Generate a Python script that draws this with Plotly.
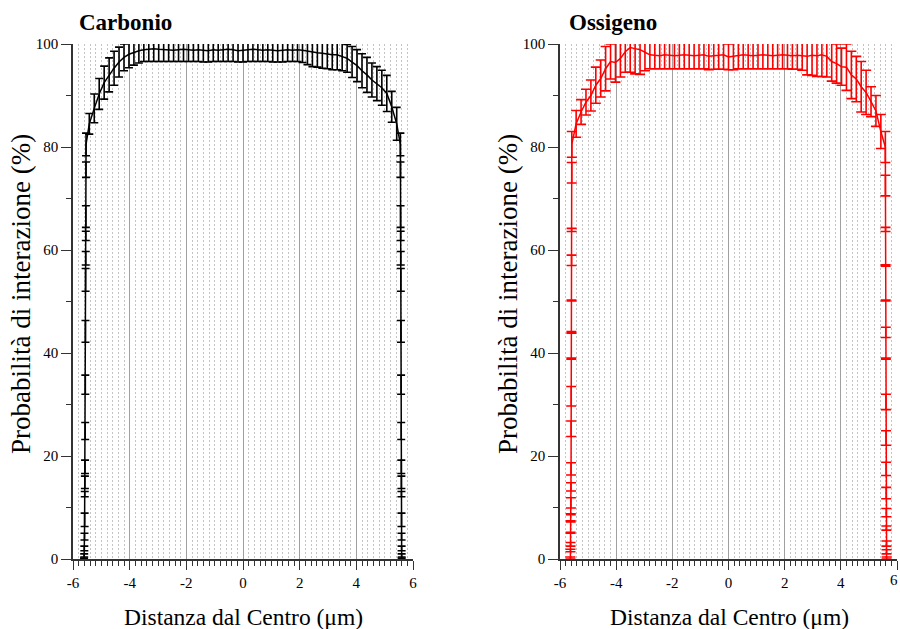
import plotly.graph_objects as go

# ---------------- data ----------------
# Carbonio: steep left wall, plateau, steep right wall
c_x_left_wall = [-5.61, -5.605, -5.60, -5.595, -5.59, -5.585, -5.58, -5.575, -5.57,
                 -5.565, -5.56, -5.555, -5.55, -5.548, -5.545, -5.542, -5.54]
c_y_left_wall = [0.1, 0.7, 2.05, 4.35, 7.6, 12.6, 14.9, 17.9, 24.85,
                 33.85, 44.2, 54.2, 58.4, 62.75, 66.5, 75.6, 80.5]
c_e_left_wall = [0.1, 0.3, 0.45, 0.65, 1.3, 0.5, 1.2, 1.3, 1.65,
                 1.85, 2.1, 2.2, 1.3, 0.9, 2.1, 1.5, 2.2]

x_grid = [-5.425, -5.25, -5.075, -4.9, -4.725, -4.55, -4.375, -4.2, -4.025, -3.85,
          -3.675, -3.5, -3.325, -3.15, -2.975, -2.8, -2.625, -2.45, -2.275, -2.1,
          -1.925, -1.75, -1.575, -1.4, -1.225, -1.05, -0.875, -0.7, -0.525, -0.35,
          -0.175, 0.0, 0.175, 0.35, 0.525, 0.7, 0.875, 1.05, 1.225, 1.4,
          1.575, 1.75, 1.925, 2.1, 2.275, 2.45, 2.625, 2.8, 2.975, 3.15,
          3.325, 3.5, 3.675, 3.85, 4.025, 4.2, 4.375, 4.55, 4.725, 4.9,
          5.075, 5.25, 5.425]

c_y_mid = [84.5, 87.5, 90.3, 92.5, 94.0, 95.3, 96.5, 97.4, 98.0, 98.4,
           98.7, 98.9, 99.0, 99.1, 99.0, 98.9, 98.9, 98.8, 98.9, 99.0,
           98.9, 98.8, 98.9, 98.8, 98.7, 98.9, 98.8, 98.9, 99.0, 98.9,
           98.7, 98.8, 98.9, 99.0, 98.9, 98.8, 98.9, 98.8, 98.7, 98.8,
           98.9, 98.8, 98.9, 98.8, 98.6, 98.4, 98.3, 98.2, 98.0, 97.9,
           97.9, 97.6, 97.2, 96.5, 95.8, 94.8, 94.0, 93.0, 92.3, 91.5,
           90.4, 87.8, 84.5]
c_e_mid = [2.0, 2.8, 3.0, 3.2, 3.3, 3.3, 2.9, 2.6, 2.6, 2.5,
           2.4, 2.3, 2.4, 2.5, 2.4, 2.3, 2.3, 2.2, 2.3, 2.4,
           2.3, 2.2, 2.3, 2.3, 2.2, 2.3, 2.2, 2.3, 2.4, 2.3,
           2.2, 2.3, 2.3, 2.4, 2.3, 2.2, 2.3, 2.3, 2.2, 2.3,
           2.3, 2.2, 2.3, 2.4, 2.6, 2.8, 2.8, 2.9, 2.8, 2.9,
           2.9, 2.8, 2.7, 3.0, 3.1, 3.3, 3.4, 3.3, 3.3, 3.4,
           3.5, 3.0, 3.2]

c_x_right_wall = [5.555, 5.558, 5.561, 5.564, 5.567, 5.57, 5.575, 5.58, 5.584,
                  5.587, 5.59, 5.592, 5.594, 5.596, 5.598, 5.599, 5.60]
c_y_right_wall = [80.5, 75.6, 66.5, 62.75, 58.4, 54.2, 44.2, 33.85, 24.85,
                  17.9, 14.9, 12.6, 7.6, 4.35, 2.05, 0.7, 0.1]
c_e_right_wall = [2.2, 1.5, 2.1, 0.9, 1.3, 2.2, 2.1, 1.85, 1.65,
                  1.3, 1.2, 0.5, 1.3, 0.65, 0.45, 0.3, 0.1]

# Ossigeno
o_x_left_wall = [-5.63, -5.627, -5.624, -5.621, -5.618, -5.615, -5.612, -5.609, -5.606,
                 -5.603, -5.6, -5.597, -5.594, -5.591, -5.588, -5.585, -5.582, -5.58]
o_y_left_wall = [0.2, 1.65, 2.85, 5.1, 7.3, 8.7, 10.9, 14.0, 17.5,
                 25.3, 31.6, 38.9, 44.0, 50.2, 58.0, 63.9, 75.0, 80.5]
o_e_left_wall = [0.2, 0.25, 0.35, 0.1, 0.1, 0.1, 1.0, 0.8, 1.2,
                 1.5, 1.9, 0.1, 0.15, 0.1, 1.0, 0.3, 2.0, 2.5]

o_y_mid = [84.5, 86.8, 88.7, 90.0, 92.0, 93.3, 95.2, 96.6, 96.4, 97.2,
           98.5, 99.3, 99.1, 98.9, 98.4, 97.9, 97.8, 97.7, 97.9, 97.8,
           97.7, 97.8, 97.9, 97.8, 97.7, 97.8, 97.9, 97.6, 97.7, 97.8,
           97.9, 97.5, 97.6, 97.8, 97.9, 97.8, 97.7, 97.8, 97.9, 97.8,
           97.7, 97.8, 97.9, 97.8, 97.7, 97.8, 97.7, 97.6, 97.8, 97.7,
           97.9, 97.6, 96.6, 96.2, 95.6, 95.5, 94.0, 93.2, 91.7, 90.6,
           88.8, 87.0, 83.0]
o_e_mid = [2.6, 2.4, 2.5, 3.0, 3.5, 3.6, 4.3, 3.4, 3.8, 3.6,
           4.0, 4.8, 4.9, 4.8, 3.6, 2.7, 2.6, 2.5, 2.7, 2.6,
           2.5, 2.6, 2.7, 2.6, 2.5, 2.6, 2.7, 2.6, 2.6, 2.7,
           2.8, 2.5, 2.6, 2.6, 2.7, 2.6, 2.5, 2.6, 2.7, 2.6,
           2.5, 2.6, 2.7, 2.6, 2.6, 2.7, 2.8, 3.6, 3.9, 4.0,
           4.2, 4.0, 3.8, 3.8, 3.6, 4.5, 4.6, 4.4, 4.9, 4.3,
           2.9, 3.0, 3.3]

o_x_right_wall = [5.585, 5.588, 5.591, 5.594, 5.597, 5.6, 5.603, 5.606, 5.609,
                  5.612, 5.615, 5.618, 5.621, 5.624, 5.627, 5.63]
o_y_right_wall = [80.0, 72.5, 64.0, 57.0, 50.2, 44.0, 38.9, 30.5, 23.5,
                  17.5, 12.8, 9.0, 6.0, 3.0, 1.4, 0.2]
o_e_right_wall = [3.0, 2.0, 0.4, 0.15, 0.1, 1.0, 0.1, 1.5, 1.4,
                  1.3, 1.1, 0.8, 0.4, 0.5, 0.4, 0.2]

x_ticks = [-6, -4, -2, 0, 2, 4, 6]
y_ticks = [0, 20, 40, 60, 80, 100]

c_x = c_x_left_wall + x_grid + c_x_right_wall
c_y = c_y_left_wall + c_y_mid + c_y_right_wall
c_e = c_e_left_wall + c_e_mid + c_e_right_wall

o_x = o_x_left_wall + x_grid + o_x_right_wall
o_y = o_y_left_wall + o_y_mid + o_y_right_wall
o_e = o_e_left_wall + o_e_mid + o_e_right_wall

# ---------------- figure ----------------
SERIF = "Liberation Serif"

fig = go.Figure()
fig.add_trace(go.Scatter(
    x=c_x, y=c_y, mode="lines", xaxis="x", yaxis="y",
    line=dict(color="black", width=1.5),
    error_y=dict(type="data", array=c_e, visible=True, color="black",
                 thickness=1.6, width=4),
    showlegend=False,
))
fig.add_trace(go.Scatter(
    x=o_x, y=o_y, mode="lines", xaxis="x2", yaxis="y2",
    line=dict(color="#ff0000", width=1.5),
    error_y=dict(type="data", array=o_e, visible=True, color="#ff0000",
                 thickness=1.6, width=5),
    showlegend=False,
))

xaxis_common = dict(
    range=[-6, 6], tickvals=x_ticks, ticktext=[str(v) for v in x_ticks],
    ticks="outside", ticklen=9, tickwidth=1.2, tickcolor="#333",
    showline=True, linecolor="#333", linewidth=1.5,
    showgrid=True, gridcolor="#a0a0a0", gridwidth=1,
    zeroline=False,
    minor=dict(dtick=0.2, tick0=0, ticks="outside", ticklen=5, tickwidth=1,
               tickcolor="#333", showgrid=True, gridcolor="#c4c4c4",
               griddash="2px,2px", gridwidth=1),
    tickfont=dict(family=SERIF, size=15, color="black"),
    fixedrange=True,
)
yaxis_common = dict(
    range=[0, 100], tickvals=y_ticks, ticktext=[str(v) for v in y_ticks],
    ticks="outside", ticklen=10, tickwidth=1.2, tickcolor="#333",
    showline=True, linecolor="#333", linewidth=1.5,
    showgrid=False, zeroline=False,
    minor=dict(dtick=10, tick0=0, ticks="outside", ticklen=5, tickwidth=1,
               tickcolor="#333", showgrid=False),
    tickfont=dict(family=SERIF, size=15, color="black"),
    fixedrange=True,
)

y_dom = [70 / 629, 585 / 629]
fig.update_layout(
    width=900, height=629,
    margin=dict(l=0, r=0, t=0, b=0, autoexpand=False),
    paper_bgcolor="white", plot_bgcolor="white",
    xaxis=dict(domain=[73 / 900, 413 / 900], anchor="y", **xaxis_common),
    yaxis=dict(domain=y_dom, anchor="x", **yaxis_common),
    xaxis2=dict(domain=[560 / 900, 897 / 900], anchor="y2", **xaxis_common),
    yaxis2=dict(domain=y_dom, anchor="x2", **yaxis_common),
)

annotations = [
    dict(text="<b>Carbonio</b>", x=77 / 900, y=1 - 23 / 629,
         xanchor="left", yanchor="middle", font=dict(size=23)),
    dict(text="<b>Ossigeno</b>", x=567 / 900, y=1 - 23 / 629,
         xanchor="left", yanchor="middle", font=dict(size=23)),
    dict(text="Probabilità di interazione (%)", x=21 / 900, y=1 - 294 / 629,
         xanchor="center", yanchor="middle", textangle=-90, font=dict(size=27)),
    dict(text="Probabilità di interazione (%)", x=508 / 900, y=1 - 294 / 629,
         xanchor="center", yanchor="middle", textangle=-90, font=dict(size=27)),
    dict(text="Distanza dal Centro (μm)", x=243 / 900, y=1 - 617 / 629,
         xanchor="center", yanchor="middle", font=dict(size=23.5)),
    dict(text="Distanza dal Centro (μm)", x=729 / 900, y=1 - 617 / 629,
         xanchor="center", yanchor="middle", font=dict(size=23.5)),
    # last tick label of the right panel sits right on the page edge
    dict(text=str(x_ticks[-1]), x=1.0, y=1 - 570 / 629,
         xanchor="right", yanchor="top", font=dict(size=15)),
]
for a in annotations:
    a.update(xref="paper", yref="paper", showarrow=False)
    a["font"].update(family=SERIF, color="black")
fig.update_layout(annotations=annotations)

fig.write_html("out.html")
